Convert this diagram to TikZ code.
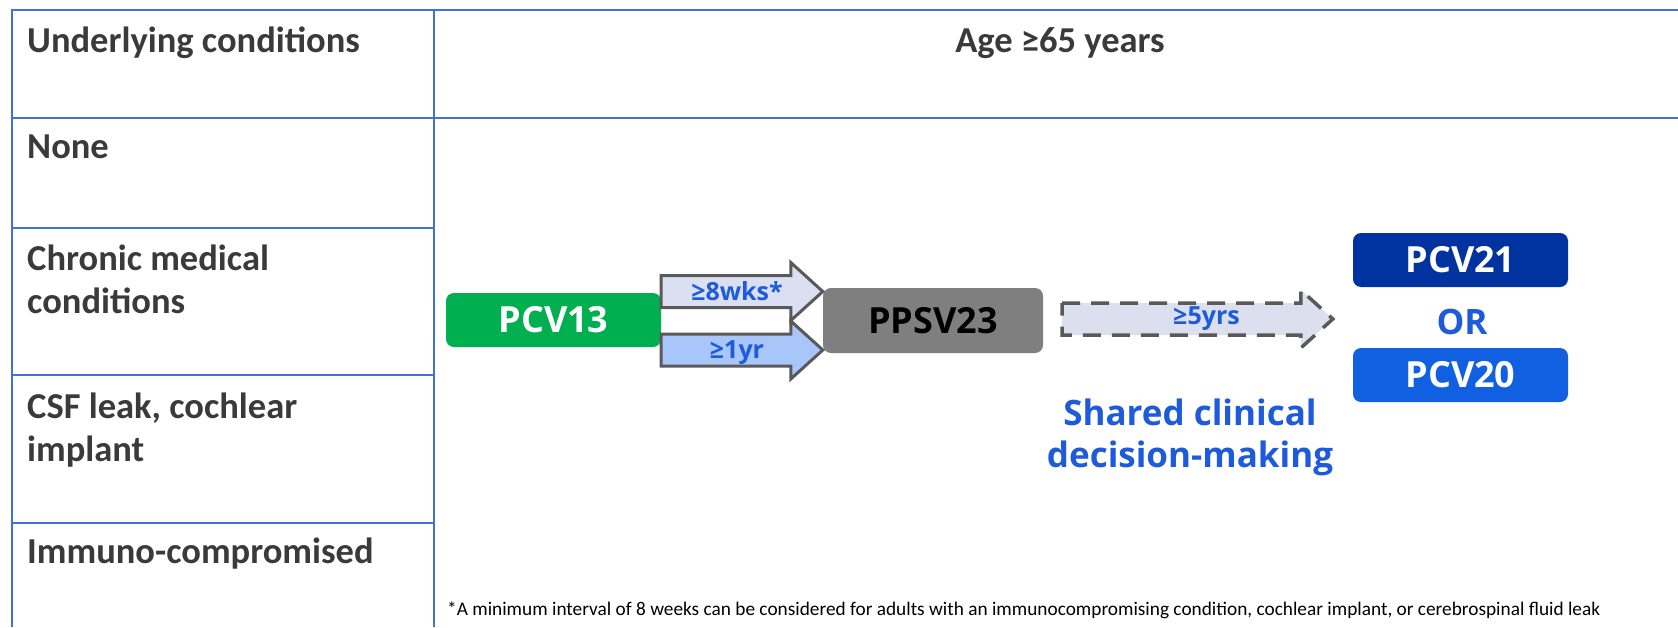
\documentclass[tikz,border=0pt]{standalone}
\usepackage{fontspec}
\setmainfont{Carlito}
\newfontfamily\boxfont{Open Sans}
\usetikzlibrary{calc}
\definecolor{tableblue}{RGB}{66,114,214}
\definecolor{labelgray}{RGB}{58,58,58}
\definecolor{pcvgreen}{RGB}{0,176,80}
\definecolor{ppsvgray}{RGB}{127,127,127}
\definecolor{edgegray}{RGB}{89,89,89}
\definecolor{wkfill}{RGB}{218,224,242}
\definecolor{yrfill}{RGB}{168,198,250}
\definecolor{dashfill}{RGB}{220,224,238}
\definecolor{textblue}{RGB}{30,90,220}
\definecolor{darkblue}{RGB}{0,51,160}
\definecolor{midblue}{RGB}{18,96,226}
\def\blockarrow[#1](#2)(#3){\draw[#1] ($(#2)+(0,-16)$) -- ($(#2 -| #3)+(-32,-16)$) -- ($(#2 -| #3)+(-32,-29)$) -- (#2 -| #3) -- ($(#2 -| #3)+(-32,29)$) -- ($(#2 -| #3)+(-32,16)$) -- ($(#2)+(0,16)$) -- cycle;}

\begin{document}
\begin{tikzpicture}[x=1pt,y=-1pt,
	rowlabel/.style={anchor=base west, inner sep=0pt, align=left, text=labelgray, font=\bfseries\fontsize{36.5}{43}\selectfont},
	vaccine/.style={rounded corners=8pt, minimum width=215pt, minimum height=54pt, inner sep=0pt, text=white, font=\boxfont\bfseries\fontsize{36}{40}\selectfont},
	gaptext/.style={inner sep=0pt, text=textblue, font=\boxfont\bfseries\fontsize{25}{30}\selectfont},
	tline/.style={draw=tableblue, line width=2.5pt}]
			%%%%% START %%%%%
			\useasboundingbox (0,0) rectangle (1678,627);
			
			\draw[tline] (1678,10) -- (12,10) -- (12,627);
			\draw[tline] (434,10) -- (434,627);
			\draw[tline] (12,118) -- (1678,118);
			\foreach \y in {228,375,523} \draw[tline] (12,\y) -- (434,\y);
			
			\node[rowlabel] (hdr) at (27,52) {Underlying conditions};
			\node[rowlabel, anchor=base] (age) at (1060,52) {Age ≥65 years};
			\node[rowlabel] (none) at (27,158) {None};
			\node[rowlabel] (chronic) at (27,313) {Chronic medical\\conditions};
			\node[rowlabel] (csf) at (27,461) {CSF leak, cochlear\\implant};
			\node[rowlabel] (immuno) at (27,563) {Immuno-compromised};
			
			\node[vaccine, fill=pcvgreen] (pcv13) at (553.5,320) {PCV13};
			\node[vaccine, fill=ppsvgray, text=black, minimum width=220pt, minimum height=65pt] (ppsv) at (933,320.5) {PPSV23};
			\node[vaccine, fill=darkblue] (pcv21) at (1460.5,260) {PCV21};
			\node[vaccine, fill=midblue] (pcv20) at (1460.5,375) {PCV20};
			\node[gaptext, font=\boxfont\bfseries\fontsize{35}{40}\selectfont] (or) at (1462,322) {OR};
			
			\coordinate (wkstart) at ([yshift=28.5pt]pcv13.east);
			\coordinate (yrstart) at ([yshift=-30pt]pcv13.east);
			\blockarrow[fill=wkfill, draw=edgegray, line width=3pt](wkstart)(ppsv.west)
			\blockarrow[fill=yrfill, draw=edgegray, line width=3pt](yrstart)(ppsv.west)
			\node[gaptext] (wk) at ([xshift=-5pt]$(wkstart)!0.5!(wkstart -| ppsv.west)$) {≥8wks*};
			\node[gaptext] (yr) at ([xshift=-5pt,yshift=-3pt]$(yrstart)!0.5!(yrstart -| ppsv.west)$) {≥1yr};
			
			\coordinate (dstart) at ([xshift=19pt,yshift=1.5pt]ppsv.east);
			\coordinate (dtip) at ([xshift=-20pt]pcv21.west);
			\blockarrow[fill=dashfill, draw=edgegray, line width=3.5pt, dash pattern=on 18pt off 11pt](dstart)(dtip)
			\node[gaptext] (yrs) at ([xshift=9pt]$(dstart)!0.5!(dstart -| dtip)$) {≥5yrs};
			
			\node[gaptext, align=center, font=\boxfont\bfseries\fontsize{35}{42}\selectfont] (scdm) at (1190,437) {Shared clinical\\decision-making};
			
			\node[anchor=base west, inner sep=0pt, font=\fontsize{19.3}{22}\selectfont] (note) at (447,615) {*A minimum interval of 8 weeks can be considered for adults with an immunocompromising condition, cochlear implant, or cerebrospinal fluid leak};
			%%%%% END %%%%%
\end{tikzpicture}
\end{document}
